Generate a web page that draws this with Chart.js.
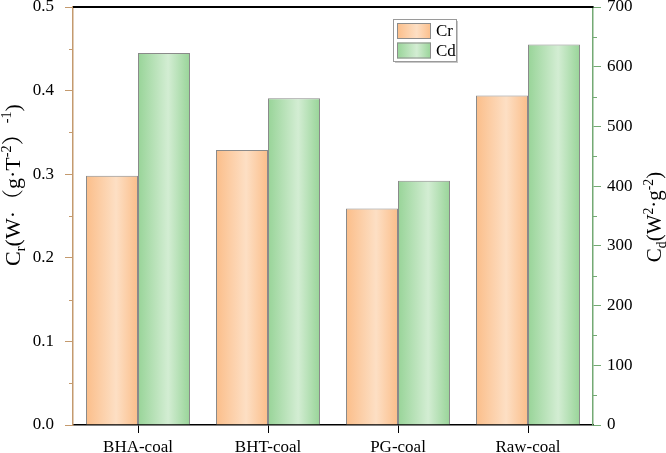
<!DOCTYPE html>
<html>
<head>
<meta charset="utf-8">
<script src="https://cdn.jsdelivr.net/npm/chart.js@4.4.1/dist/chart.umd.min.js"></script>
<style>
  body { margin: 0; background: #fff; }
  canvas { display: block; }
</style>
</head>
<body>
<canvas id="chart" width="666" height="453"></canvas>
<script>
let categories = ["BHA-coal", "BHT-coal", "PG-coal", "Raw-coal"];
let crValues = [0.298, 0.329, 0.259, 0.394];
let cdValues = [623, 547, 409, 637];
let seriesNames = ["Cr", "Cd"];

let serif = "'Liberation Serif', 'Times New Roman', 'Noto Serif CJK SC', 'Noto Sans CJK SC', serif";
let tan = "#C49A6E";
let green = "#74AA74";
// edge colour, light colour for the cylinder-like fill
let fills = [["#FBBE8A", "#FDDFC4"], ["#98D498", "#D3EDD3"]];

function barGradient(ctx, left, width, pair) {
    let g = ctx.createLinearGradient(left, 0, left + width, 0);
    g.addColorStop(0, pair[0]);
    g.addColorStop(0.58, pair[1]);
    g.addColorStop(1, pair[0]);
    return g;
}

// scriptable fill: work the bar's left edge out from the x scale
function barFill(c) {
    let chart = c.chart;
    let xs = chart.scales.x;
    let pair = fills[c.datasetIndex];
    if (!xs || !chart.chartArea) return pair[0];
    let catW = xs.width / categories.length;
    let barW = catW * 0.8 / 2;
    let center = xs.getPixelForValue(c.dataIndex);
    let left = center - barW + c.datasetIndex * barW;
    return barGradient(chart.ctx, left, barW, pair);
}

// draw text with sub/superscripts, rotated to read bottom-up
function drawRich(ctx, parts, x, y, size) {
    ctx.save();
    ctx.translate(x, y);
    ctx.rotate(-Math.PI / 2);
    ctx.fillStyle = "#000";
    ctx.textBaseline = "alphabetic";
    ctx.textAlign = "left";
    let total = 0;
    parts.forEach(p => {
        p.size = p.sub || p.sup ? size * 0.65 : size;
        ctx.font = p.size + "px " + serif;
        p.w = ctx.measureText(p.t).width;
        total += p.w;
    });
    let cx = -total / 2;
    parts.forEach(p => {
        ctx.font = p.size + "px " + serif;
        let dy = p.sub ? size * 0.22 : (p.sup ? -size * 0.4 : 0);
        ctx.fillText(p.t, cx, dy);
        cx += p.w;
    });
    ctx.restore();
}

let decorPlugin = {
    id: "decor",
    afterDraw(chart) {
        let ctx = chart.ctx;
        let area = chart.chartArea;
        let y = chart.scales.y, y1 = chart.scales.y1;
        ctx.save();

        // top frame
        ctx.strokeStyle = "#000";
        ctx.lineWidth = 2;
        ctx.beginPath();
        ctx.moveTo(area.left, area.top);
        ctx.lineTo(area.right + 0.5, area.top);
        ctx.stroke();

        // minor ticks
        ctx.lineWidth = 1;
        ctx.strokeStyle = tan;
        for (let v = 0.05; v < 0.5; v += 0.1) {
            let py = Math.round(y.getPixelForValue(v)) + 0.5;
            ctx.beginPath();
            ctx.moveTo(area.left - 4, py);
            ctx.lineTo(area.left, py);
            ctx.stroke();
        }
        ctx.strokeStyle = green;
        for (let v = 50; v < 700; v += 100) {
            let py = Math.round(y1.getPixelForValue(v)) + 0.5;
            ctx.beginPath();
            ctx.moveTo(area.right, py);
            ctx.lineTo(area.right + 4, py);
            ctx.stroke();
        }

        // legend
        let lx = 393, ly = 19, lw = 63, lh = 42;
        ctx.fillStyle = "#C8C8C8";
        ctx.fillRect(lx + 2, ly + 2, lw, lh);
        ctx.fillStyle = "#fff";
        ctx.fillRect(lx, ly, lw, lh);
        ctx.strokeStyle = "#9A9A9A";
        ctx.strokeRect(lx + 0.5, ly + 0.5, lw, lh);
        seriesNames.forEach((name, i) => {
            let sy = ly + 4 + i * 19.5;
            ctx.fillStyle = barGradient(ctx, lx + 4, 34, fills[i]);
            ctx.fillRect(lx + 4, sy, 34, 16);
            ctx.strokeStyle = "#8C8C8C";
            ctx.strokeRect(lx + 4.5, sy + 0.5, 33, 15);
            ctx.fillStyle = "#000";
            ctx.font = "17px " + serif;
            ctx.textBaseline = "middle";
            ctx.fillText(name, lx + 43, sy + 9);
        });
        ctx.restore();

        // axis titles
        drawRich(ctx, [
            { t: "C" }, { t: "r", sub: true }, { t: "(W·" }, { t: "（g·T" },
            { t: "-2", sup: true }, { t: "）" }, { t: "-1", sup: true }, { t: ")" }
        ], 20, 185, 22);
        drawRich(ctx, [
            { t: "C" }, { t: "d", sub: true }, { t: "(W" }, { t: "2", sup: true },
            { t: "·g" }, { t: "-2", sup: true }, { t: ")" }
        ], 661, 217, 21);
    }
};

let tickFont = { family: serif, size: 17 };

// keep the scales from reserving room for half a label above/below the plot
function fixSide(width) {
    return function (s) {
        s.width = width;
        s.paddingTop = 0;
        s.paddingBottom = 0;
    };
}

new Chart(document.getElementById("chart"), {
    type: "bar",
    data: {
        labels: categories,
        datasets: [
            {
                label: seriesNames[0],
                data: crValues,
                yAxisID: "y",
                backgroundColor: barFill,
                borderColor: "#8A8A8A",
                borderWidth: 1,
                categoryPercentage: 0.8,
                barPercentage: 1.0
            },
            {
                label: seriesNames[1],
                data: cdValues,
                yAxisID: "y1",
                backgroundColor: barFill,
                borderColor: "#8A8A8A",
                borderWidth: 1,
                categoryPercentage: 0.8,
                barPercentage: 1.0
            }
        ]
    },
    options: {
        responsive: false,
        animation: false,
        devicePixelRatio: 1,
        layout: { padding: { top: 7, left: 0, right: 0, bottom: 0 } },
        plugins: {
            legend: { display: false },
            tooltip: { enabled: false }
        },
        scales: {
            x: {
                grid: { drawOnChartArea: false, offset: false, tickLength: 8, color: "#000", lineWidth: 1 },
                border: { color: "#000", width: 1.5 },
                ticks: { font: tickFont, color: "#000", padding: 4, maxRotation: 0 },
                afterFit(s) { s.height = 28; s.paddingLeft = 0; s.paddingRight = 0; }
            },
            y: {
                position: "left",
                min: 0,
                max: 0.5,
                ticks: {
                    stepSize: 0.1,
                    font: tickFont,
                    color: "#000",
                    padding: 11,
                    callback: v => v.toFixed(1)
                },
                grid: { drawOnChartArea: false, tickLength: 8, color: tan, lineWidth: 1 },
                border: { color: tan, width: 1.5 },
                afterFit: fixSide(73)
            },
            y1: {
                position: "right",
                min: 0,
                max: 700,
                ticks: {
                    stepSize: 100,
                    font: tickFont,
                    color: "#000",
                    padding: 6
                },
                grid: { drawOnChartArea: false, tickLength: 8, color: green, lineWidth: 1 },
                border: { color: green, width: 1.5 },
                afterFit: fixSide(73)
            }
        }
    },
    plugins: [decorPlugin]
});
</script>
</body>
</html>
